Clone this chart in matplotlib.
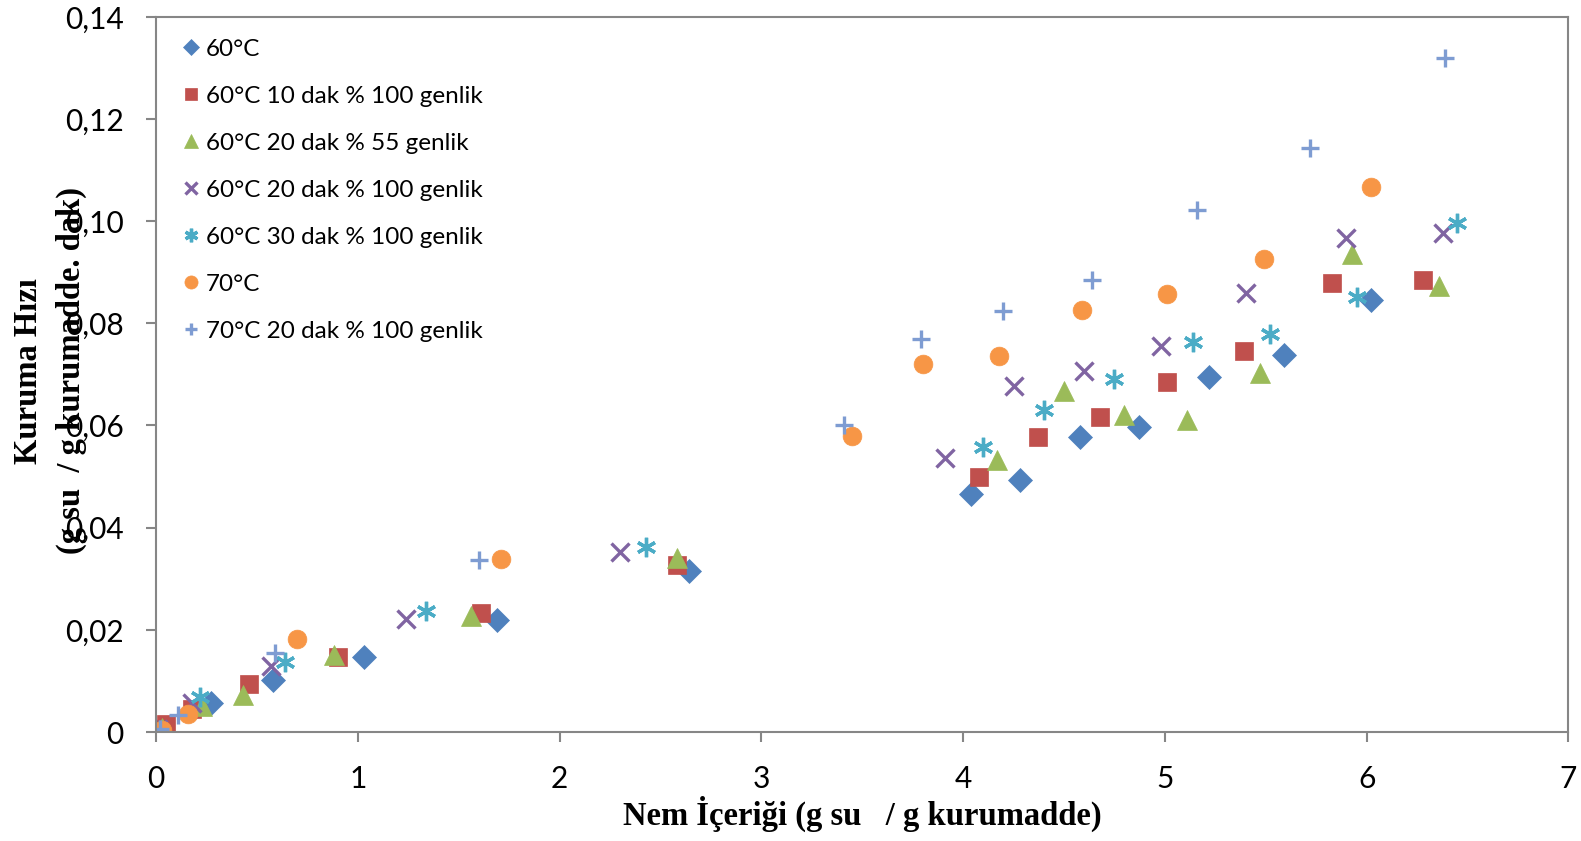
import matplotlib.pyplot as plt
from matplotlib.ticker import FuncFormatter, MultipleLocator

# Nem icerigi (x) ve kuruma hizi (y) degerleri, seri seri
x_60 = [0.02, 0.27, 0.58, 1.03, 1.69, 2.64, 4.04, 4.28, 4.58, 4.87, 5.22, 5.59, 6.02]
y_60 = [0.0005, 0.0057, 0.0102, 0.0147, 0.0219, 0.0316, 0.0466, 0.0494, 0.0577, 0.0598, 0.0694, 0.0738, 0.0846]

x_60_10 = [0.05, 0.18, 0.46, 0.90, 1.61, 2.58, 4.08, 4.37, 4.68, 5.01, 5.39, 5.83, 6.28]
y_60_10 = [0.0015, 0.0045, 0.0094, 0.0147, 0.0233, 0.0327, 0.0499, 0.0578, 0.0617, 0.0685, 0.0745, 0.0878, 0.0884]

x_60_20_55 = [0.03, 0.23, 0.43, 0.88, 1.56, 2.58, 4.17, 4.50, 4.80, 5.11, 5.47, 5.93, 6.36]
y_60_20_55 = [0.0008, 0.0050, 0.0072, 0.0151, 0.0228, 0.0341, 0.0533, 0.0667, 0.0620, 0.0610, 0.0703, 0.0936, 0.0873]

x_60_20_100 = [0.01, 0.18, 0.57, 1.24, 2.30, 3.91, 4.25, 4.60, 4.98, 5.40, 5.90, 6.38]
y_60_20_100 = [0.0005, 0.0056, 0.0130, 0.0221, 0.0353, 0.0537, 0.0677, 0.0707, 0.0756, 0.0859, 0.0968, 0.0977]

x_60_30 = [0.02, 0.22, 0.64, 1.34, 2.43, 4.10, 4.40, 4.75, 5.14, 5.52, 5.95, 6.45]
y_60_30 = [0.0004, 0.0069, 0.0138, 0.0237, 0.0363, 0.0557, 0.0630, 0.0691, 0.0764, 0.0780, 0.0851, 0.0997]

x_70 = [0.03, 0.16, 0.70, 1.71, 3.45, 3.80, 4.18, 4.59, 5.01, 5.49, 6.02]
y_70 = [0.0004, 0.0035, 0.0182, 0.0338, 0.0579, 0.0721, 0.0737, 0.0827, 0.0857, 0.0926, 0.1066]

x_70_20 = [0.02, 0.11, 0.59, 1.60, 3.41, 3.79, 4.20, 4.64, 5.16, 5.72, 6.39]
y_70_20 = [0.0005, 0.0034, 0.0154, 0.0336, 0.0600, 0.0770, 0.0825, 0.0885, 0.1021, 0.1143, 0.1319]

series = [
    (x_60, y_60, "60°C", "D", "#4F81BD", 12),
    (x_60_10, y_60_10, "60°C 10 dak % 100 genlik", "s", "#C0504D", 12.5),
    (x_60_20_55, y_60_20_55, "60°C 20 dak % 55 genlik", "^", "#9BBB59", 14),
    (x_60_20_100, y_60_20_100, "60°C 20 dak % 100 genlik", "x", "#8064A2", 13),
    (x_60_30, y_60_30, "60°C 30 dak % 100 genlik", (6, 2, 0), "#4BACC6", 14),
    (x_70, y_70, "70°C", "o", "#F79646", 13.5),
    (x_70_20, y_70_20, "70°C 20 dak % 100 genlik", "+", "#7E9CD2", 13),
]

fig = plt.figure(figsize=(15.81, 8.41), dpi=100)
ax = fig.add_axes([0.0987, 0.1296, 0.8933, 0.8504])

for xs, ys, lab, m, c, ms in series:
    ax.plot(xs, ys, linestyle="none", marker=m, color=c, markersize=ms,
            markeredgewidth=2.4 if m in ("x", "+", (6, 2, 0)) else 0.5,
            label=lab)

ax.set_xlim(0, 7)
ax.set_ylim(0, 0.14)
ax.xaxis.set_major_locator(MultipleLocator(1))
ax.yaxis.set_major_locator(MultipleLocator(0.02))
ax.yaxis.set_major_formatter(FuncFormatter(
    lambda v, p: "0" if abs(v) < 1e-9 else ("%.2f" % v).replace(".", ",")))

for s in ax.spines.values():
    s.set_color("#868686")
    s.set_linewidth(1.5)
ax.tick_params(direction="out", length=7.5, width=1.5, color="#868686",
               labelsize=21.5, labelcolor="black", pad=16)
for t in ax.get_xticklabels() + ax.get_yticklabels():
    t.set_family("Lato")

ax.set_xlabel("Nem İçeriği (g su   / g kurumadde)", family="Liberation Serif",
              weight="bold", fontsize=23.5, labelpad=2)
fig.text(0.018, 0.559, "Kuruma Hızı", rotation=90, family="Liberation Serif",
         weight="bold", fontsize=23.5, ha="center", va="center")
fig.text(0.045, 0.559, "(g su  / g kurumadde. dak)", rotation=90,
         family="Liberation Serif", weight="bold", fontsize=23.5,
         ha="center", va="center")

leg = ax.legend(loc="upper left", frameon=False, prop={"family": "Lato", "size": 17.5},
                handletextpad=0.05, labelspacing=1.07, markerscale=0.7,
                borderaxespad=0.5, handlelength=1.1)

plt.savefig("out.png")
